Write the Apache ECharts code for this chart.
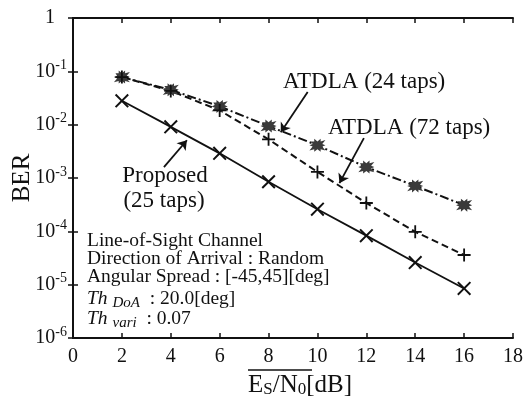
<!DOCTYPE html>
<html>
<head>
<meta charset="utf-8">
<script src="https://cdn.jsdelivr.net/npm/echarts@6/dist/echarts.min.js"></script>
<style>
html,body{margin:0;padding:0;background:#fff;}
#chart{width:530px;height:398px;}
</style>
</head>
<body>
<div id="chart"></div>
<script>
// ---- data ----
const snr = [2, 4, 6, 8, 10, 12, 14, 16];
const atdla24 = [7.8e-2, 4.5e-2, 2.2e-2, 9.4e-3, 4.1e-3, 1.6e-3, 7.1e-4, 3.1e-4];
const atdla72 = [7.8e-2, 4.3e-2, 1.85e-2, 5.3e-3, 1.3e-3, 3.4e-4, 9.8e-5, 3.6e-5];
const proposed = [2.8e-2, 9.1e-3, 2.9e-3, 8.5e-4, 2.6e-4, 8.3e-5, 2.6e-5, 8.5e-6];
const xTicks = [0, 2, 4, 6, 8, 10, 12, 14, 16, 18];
const yTicks = [1, 1e-1, 1e-2, 1e-3, 1e-4, 1e-5, 1e-6];
// arrow annotations [fromX, fromY, toX, toY] in data units
const arrow24 = [9.6, 4.1e-2, 8.5, 7.2e-3];
const arrow72 = [11.9, 5.6e-3, 10.9, 8.0e-4];
const arrowProp = [3.72, 1.6e-3, 4.66, 5.1e-3];

const FONT = '"Liberation Serif", "DejaVu Serif", serif';
const chart = echarts.init(document.getElementById('chart'));

function pairs(ys){ return snr.map((x,i)=>[x, ys[i]]); }
function arrowLine(a){
  return {
    silent: true, symbol: ['none','arrow'], symbolSize: 9,
    lineStyle: {color:'#111', width:1.8, type:'solid'},
    itemStyle: {color:'#111'},
    label: {show:false},
    emphasis: {disabled:true},
    data: [[{coord:[a[0], a[1]]}, {coord:[a[2], a[3]]}]]
  };
}

const crossPath = 'path://M0,1 L1,0 L5,4 L9,0 L10,1 L6,5 L10,9 L9,10 L5,6 L1,10 L0,9 L4,5 Z';
const plusPath = 'path://M4.3,0 H5.7 V4.3 H10 V5.7 H5.7 V10 H4.3 V5.7 H0 V4.3 H4.3 Z';
const blobPath = 'path://M1,2 L3,2 L3,0 L5,2 L7,0 L7,2 L10,1 L8,4 L10,5 L8,6 L10,9 L7,8 L7,10 L5,8 L3,10 L3,8 L0,9 L2,6 L0,5 L2,4 Z';

const axisCommon = {
  axisLine: {show:true, lineStyle:{color:'#111', width:2}},
  axisTick: {show:true, inside:true, length:5, lineStyle:{color:'#111', width:1.5}},
  splitLine: {show:false},
  minorTick: {show:false}
};

const option = {
  backgroundColor: '#fff',
  animation: false,
  grid: {left:73, right:17, top:18, bottom:60},
  xAxis: [
    Object.assign({type:'value', min:0, max:18, interval:2, position:'bottom',
      axisLabel:{show:true, fontFamily:FONT, fontSize:20, color:'#111', margin:9}}, axisCommon),
    Object.assign({type:'value', min:0, max:18, interval:2, position:'top',
      axisLabel:{show:false}}, axisCommon)
  ],
  yAxis: [
    Object.assign({type:'log', logBase:10, min:1e-6, max:1, position:'left',
      axisLabel:{show:true, margin:6, color:'#111',
        formatter: function(v){
          const e = Math.round(Math.log10(v));
          if (e === 0) return '{o|1}';
          return '{b|10}{s|' + e + '}';
        },
        rich:{
          b:{fontFamily:FONT, fontSize:20, color:'#111'},
          o:{fontFamily:FONT, fontSize:20, color:'#111', padding:[0,12,0,0]},
          s:{fontFamily:FONT, fontSize:14, color:'#111', padding:[0,0,12,0]}
        }}}, axisCommon),
    Object.assign({type:'log', logBase:10, min:1e-6, max:1, position:'right',
      axisLabel:{show:false}}, axisCommon)
  ],
  series: [
    {
      name:'ATDLA (24 taps)', type:'line', data: pairs(atdla24),
      symbol: blobPath, symbolSize:[16,13],
      itemStyle:{color:'#3a3a3a'},
      lineStyle:{color:'#111', width:2, type:[9,3,2,3]},
      z: 3,
      markLine: arrowLine(arrow24)
    },
    {
      name:'ATDLA (72 taps)', type:'line', data: pairs(atdla72),
      symbol: plusPath, symbolSize:13,
      itemStyle:{color:'#111'},
      lineStyle:{color:'#111', width:2, type:[7,4]},
      markLine: arrowLine(arrow72)
    },
    {
      name:'Proposed (25 taps)', type:'line', data: pairs(proposed),
      symbol: crossPath, symbolSize:14,
      itemStyle:{color:'#111'},
      lineStyle:{color:'#111', width:1.8, type:'solid'},
      markLine: arrowLine(arrowProp)
    }
  ],
  graphic: [
    // y axis name
    {type:'text', x:22, y:178, rotation:Math.PI/2,
      style:{text:'BER', font:'25px ' + FONT, fill:'#111', textAlign:'center', textVerticalAlign:'middle'}},
    // x axis name
    {type:'text', x:248, y:385,
      style:{rich:{
          m:{fontFamily:FONT, fontSize:25, fill:'#111'},
          u:{fontFamily:FONT, fontSize:17, fill:'#111', padding:[10,0,0,0]}
        },
        text:'{m|E}{u|S}{m|/N}{u|0}{m|[dB]}', textAlign:'left', textVerticalAlign:'middle'}},
    {type:'line', shape:{x1:248, y1:370, x2:312, y2:370}, style:{stroke:'#111', lineWidth:1.5}},
    // series labels
    {type:'text', x:283, y:82, style:{text:'ATDLA (24 taps)', font:'23px ' + FONT, fill:'#111', textVerticalAlign:'middle'}},
    {type:'text', x:328, y:128, style:{text:'ATDLA (72 taps)', font:'23px ' + FONT, fill:'#111', textVerticalAlign:'middle'}},
    {type:'text', x:165, y:176, style:{text:'Proposed', font:'23px ' + FONT, fill:'#111', textAlign:'center', textVerticalAlign:'middle'}},
    {type:'text', x:164, y:201, style:{text:'(25 taps)', font:'23px ' + FONT, fill:'#111', textAlign:'center', textVerticalAlign:'middle'}},
    // condition box
    {type:'text', x:87, y:241, style:{text:'Line-of-Sight Channel', font:'19.5px ' + FONT, fill:'#111', textVerticalAlign:'middle'}},
    {type:'text', x:87, y:259, style:{text:'Direction of Arrival : Random', font:'19.5px ' + FONT, fill:'#111', textVerticalAlign:'middle'}},
    {type:'text', x:87, y:277, style:{text:'Angular Spread : [-45,45][deg]', font:'19.5px ' + FONT, fill:'#111', textVerticalAlign:'middle'}},
    {type:'text', x:87, y:299, style:{
        rich:{
          i:{fontFamily:FONT, fontStyle:'italic', fontSize:19.5, fill:'#111'},
          is:{fontFamily:FONT, fontStyle:'italic', fontSize:15, fill:'#111', padding:[8,0,0,0]},
          n:{fontFamily:FONT, fontSize:19.5, fill:'#111'}
        },
        text:'{i|Th }{is|DoA}{n|  : 20.0[deg]}', textVerticalAlign:'middle'}},
    {type:'text', x:87, y:319, style:{
        rich:{
          i:{fontFamily:FONT, fontStyle:'italic', fontSize:19.5, fill:'#111'},
          is:{fontFamily:FONT, fontStyle:'italic', fontSize:15, fill:'#111', padding:[8,0,0,0]},
          n:{fontFamily:FONT, fontSize:19.5, fill:'#111'}
        },
        text:'{i|Th }{is|vari}{n|  : 0.07}', textVerticalAlign:'middle'}}
  ]
};
chart.setOption(option);
</script>
</body>
</html>
